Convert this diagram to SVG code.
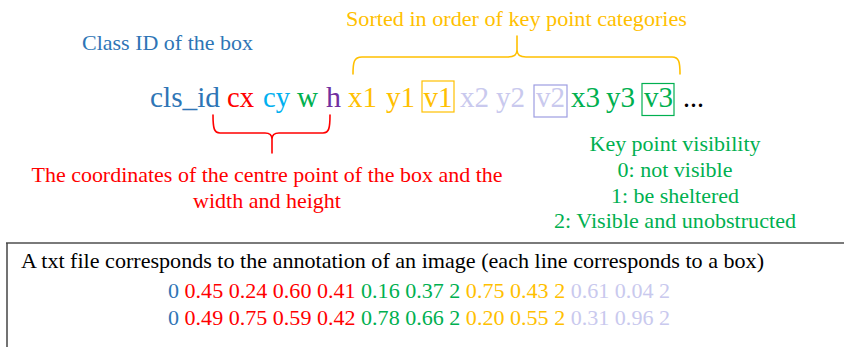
<svg xmlns="http://www.w3.org/2000/svg" width="844" height="347" viewBox="0 0 844 347">
<style>
text{font-family:'Liberation Serif','Tinos','Times New Roman','Times','Noto Serif','DejaVu Serif','Nimbus Roman','FreeSerif',serif;font-size:22px}
.big{font-size:29px}
.blue{fill:#2E75B6}.red{fill:#FF0000}.sky{fill:#00B0F0}.grn{fill:#00B050}.pur{fill:#7030A0}.yel{fill:#FFC000}.lav{fill:#C9C9EE}.blk{fill:#000}
.brace{fill:none;stroke-width:1.6;stroke-linecap:round}
.c{text-anchor:middle}
</style>
<rect width="844" height="347" fill="#fff"/>
<g id="class-id-label"><text class="blue" x="82" y="50" textLength="171" lengthAdjust="spacingAndGlyphs">Class ID of the box</text></g>
<g id="sorted-label"><text class="yel" x="346" y="26" textLength="341" lengthAdjust="spacingAndGlyphs">Sorted in order of key point categories</text></g>
<g id="format-line">
<text class="big blue" x="150" y="107" textLength="70" lengthAdjust="spacingAndGlyphs">cls_id</text>
<text class="big red" x="227" y="107" textLength="27" lengthAdjust="spacingAndGlyphs">cx</text>
<text class="big sky" x="263" y="107" textLength="27" lengthAdjust="spacingAndGlyphs">cy</text>
<text class="big grn" x="297" y="107" textLength="21" lengthAdjust="spacingAndGlyphs">w</text>
<text class="big pur" x="326" y="107" textLength="15" lengthAdjust="spacingAndGlyphs">h</text>
<text class="big yel" x="348" y="107" textLength="29" lengthAdjust="spacingAndGlyphs">x1</text>
<text class="big yel" x="386" y="107" textLength="29" lengthAdjust="spacingAndGlyphs">y1</text>
<rect x="422" y="81" width="32" height="31" fill="none" stroke="#FFC000" stroke-width="1.2"/>
<text class="big yel" x="423.5" y="107" textLength="29" lengthAdjust="spacingAndGlyphs">v1</text>
<text class="big lav" x="460" y="107" textLength="29" lengthAdjust="spacingAndGlyphs">x2</text>
<text class="big lav" x="496" y="107" textLength="29" lengthAdjust="spacingAndGlyphs">y2</text>
<rect x="534" y="85" width="33" height="32" fill="none" stroke="#9D9DE2" stroke-width="1.2"/>
<text class="big lav" x="536" y="107" textLength="29" lengthAdjust="spacingAndGlyphs">v2</text>
<text class="big grn" x="571" y="107" textLength="29" lengthAdjust="spacingAndGlyphs">x3</text>
<text class="big grn" x="606" y="107" textLength="29" lengthAdjust="spacingAndGlyphs">y3</text>
<rect x="642" y="83.5" width="32" height="32" fill="none" stroke="#00B050" stroke-width="1.2"/>
<text class="big grn" x="644" y="107" textLength="29" lengthAdjust="spacingAndGlyphs">v3</text>
<text class="big blk" x="683" y="107" textLength="21" lengthAdjust="spacingAndGlyphs">...</text>
</g>
<g id="connectors">
<path class="brace" stroke="#FFC000" d="M353,74 C353,62 354,57 362,57 L508,57 C514,57 517,55 517,50 L517,36 M517,50 C517,55 520,57 526,57 L672,57 C679,57 680,62 680,74"/>
<path class="brace" stroke="#FF0000" d="M213,115 C213,128 214,133 220,133 L265,133 C270,133 272,135 272,139 L272,153 M272,139 C272,135 274,133 279,133 L323,133 C329,133 330,128 330,115"/>
</g>
<g id="coords-label">
<text class="red c" x="267" y="182" textLength="471" lengthAdjust="spacingAndGlyphs">The coordinates of the centre point of the box and the</text>
<text class="red c" x="267" y="208" textLength="148" lengthAdjust="spacingAndGlyphs">width and height</text>
</g>
<g id="visibility-label">
<text class="grn c" x="675" y="151" textLength="171" lengthAdjust="spacingAndGlyphs">Key point visibility</text>
<text class="grn c" x="675" y="177" textLength="115" lengthAdjust="spacingAndGlyphs">0: not visible</text>
<text class="grn c" x="675" y="203" textLength="128" lengthAdjust="spacingAndGlyphs">1: be sheltered</text>
<text class="grn c" x="675" y="228" textLength="242" lengthAdjust="spacingAndGlyphs">2: Visible and unobstructed</text>
</g>
<g id="txt-file-box">
<line x1="6" y1="243" x2="844" y2="243" stroke="#7A7A7A" stroke-width="2"/>
<line x1="7" y1="243" x2="7" y2="347" stroke="#444" stroke-width="1.5"/>
<text class="blk" x="21" y="268" textLength="743" lengthAdjust="spacingAndGlyphs">A txt file corresponds to the annotation of an image (each line corresponds to a box)</text>
<text x="168" y="298" textLength="502" lengthAdjust="spacingAndGlyphs"><tspan class="blue">0</tspan> <tspan class="red">0.45 0.24 0.60 0.41</tspan> <tspan class="grn">0.16 0.37 2</tspan> <tspan class="yel">0.75 0.43 2</tspan> <tspan class="lav">0.61 0.04 2</tspan></text>
<text x="168" y="325" textLength="502" lengthAdjust="spacingAndGlyphs"><tspan class="blue">0</tspan> <tspan class="red">0.49 0.75 0.59 0.42</tspan> <tspan class="grn">0.78 0.66 2</tspan> <tspan class="yel">0.20 0.55 2</tspan> <tspan class="lav">0.31 0.96 2</tspan></text>
</g>
</svg>
